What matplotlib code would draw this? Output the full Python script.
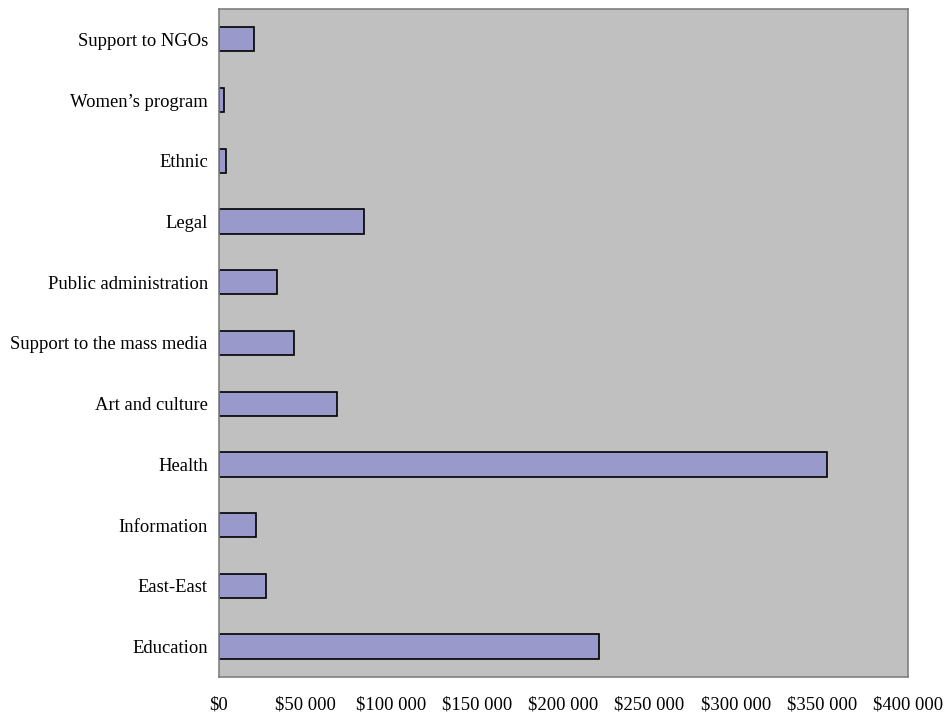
import matplotlib
matplotlib.use('Agg')
import matplotlib.pyplot as plt
from matplotlib.ticker import FuncFormatter
import numpy as np

# categories from bottom to top
categories = ['Education', 'East-East', 'Information', 'Health', 'Art and culture',
              'Support to the mass media', 'Public administration', 'Legal',
              'Ethnic', "Women\u2019s program", 'Support to NGOs']
amounts = [220800, 27100, 21500, 353000, 68300, 43500, 33500, 84200, 3900, 2900, 20500]
xticks = [0, 50000, 100000, 150000, 200000, 250000, 300000, 350000, 400000]


def money(v, pos):
    if v == 0:
        return '$0'
    return '$' + format(int(v), ',').replace(',', ' ')


plt.rcParams['font.family'] = ['Liberation Serif', 'DejaVu Serif']

fig = plt.figure(figsize=(9.45, 7.18), dpi=100)
ax = fig.add_axes([0.2317, 0.0571, 0.7291, 0.9304])
ax.set_facecolor('#c0c0c0')

y = np.arange(len(categories))
ax.barh(y, amounts, height=0.4, color='#9999cc', edgecolor='black', linewidth=1.2)

ax.set_xlim(0, 400000)
ax.set_ylim(-0.5, len(categories) - 0.5)
ax.set_xticks(xticks)
ax.xaxis.set_major_formatter(FuncFormatter(money))
ax.set_yticks(y)
ax.set_yticklabels(categories)
ax.tick_params(axis='x', length=0, pad=14, labelsize=13.4)
ax.tick_params(axis='y', length=0, pad=8, labelsize=13.4)

for s in ax.spines.values():
    s.set_color('#808080')
    s.set_linewidth(1.2)

fig.savefig('out.png', dpi=100)
